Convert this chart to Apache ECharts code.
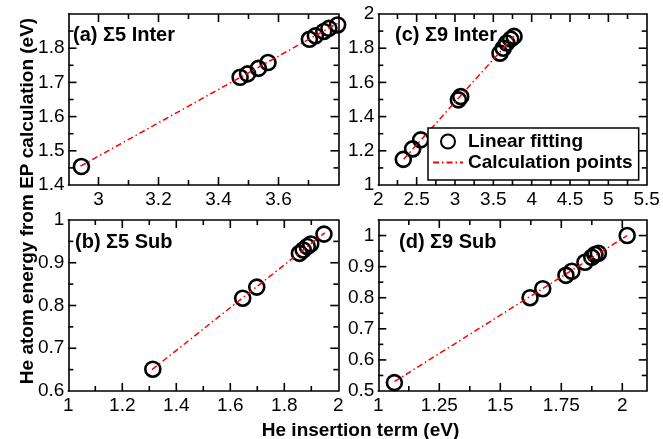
<!DOCTYPE html>
<html>
<head>
<meta charset="utf-8">
<script src="https://cdn.jsdelivr.net/npm/echarts@6/dist/echarts.min.js"></script>
<style>
	body { margin: 0; background: #fff; }
	.wrap { position: relative; width: 663px; height: 439px; }
	.layer { position: absolute; left: 0; top: 0; width: 663px; height: 439px; }
</style>
</head>
<body>
<div class="wrap">
	<div id="p0" class="layer"></div>
	<div id="p2" class="layer"></div>
	<div id="p3" class="layer"></div>
	<div id="p1" class="layer"></div>
</div>
<script>
// (a) Sigma5 interstitial
const interA_x = [2.943, 3.472, 3.497, 3.533, 3.565, 3.703, 3.723, 3.751, 3.768, 3.797];
const interA_y = [1.454, 1.715, 1.725, 1.741, 1.758, 1.826, 1.836, 1.849, 1.858, 1.868];
const fitA_x = [2.94, 3.797];
const fitA_y = [1.455, 1.873];

// (c) Sigma9 interstitial
const interC_x = [2.326, 2.448, 2.553, 3.044, 3.075, 3.587, 3.63, 3.675, 3.727, 3.77];
const interC_y = [1.150, 1.211, 1.264, 1.498, 1.517, 1.771, 1.80, 1.83, 1.853, 1.869];
const fitC_x = [2.33, 3.77];
const fitC_y = [1.15, 1.87];

// (b) Sigma5 substitutional
const subB_x = [1.313, 1.646, 1.698, 1.856, 1.870, 1.885, 1.898, 1.947];
const subB_y = [0.651, 0.817, 0.843, 0.922, 0.930, 0.938, 0.944, 0.967];
const fitB_x = [1.31, 1.95];
const fitB_y = [0.65, 0.97];

// (d) Sigma9 substitutional
const subD_x = [1.066, 1.622, 1.674, 1.769, 1.793, 1.847, 1.875, 1.888, 1.902, 2.020];
const subD_y = [0.527, 0.800, 0.829, 0.872, 0.885, 0.914, 0.930, 0.939, 0.943, 1.000];
const fitD_x = [1.066, 2.02];
const fitD_y = [0.53, 1.0];

const panelTitles = ["(a) Σ5 Inter", "(c) Σ9 Inter", "(b) Σ5 Sub", "(d) Σ9 Sub"];

const FONT = "Liberation Sans";

let zip = (xs, ys) => xs.map((x, i) => [x, ys[i]]);

// (a) x only labels even tenths; (a) y hides the 1.9 at the top
let evenTenths = (v) => (Math.round(v * 10) % 2 === 0 && v < 3.75 ? String(+v.toFixed(1)) : "");
let belowMax = (max) => (v) => (v < max - 1e-6 ? String(+v.toFixed(2)) : "");

let panels = [
	{ grid: { left: 68.5, top: 14, width: 270, height: 171 },
	  x: { min: 2.9, max: 3.8, interval: 0.1, major: 0.2, minor: 0.1, fmt: evenTenths },
	  y: { min: 1.4, max: 1.9, interval: 0.1, major: 0.1, minor: 0.05, fmt: belowMax(1.9) },
	  pts: zip(interA_x, interA_y), fit: zip(fitA_x, fitA_y),
	  label: { left: 73, top: 25 } },
	{ grid: { left: 378.3, top: 14, width: 268.4, height: 171 },
	  x: { min: 2, max: 5.5, interval: 0.5, major: 0.5, minor: 0.25 },
	  y: { min: 1, max: 2, interval: 0.2, major: 0.2, minor: 0.1 },
	  pts: zip(interC_x, interC_y), fit: zip(fitC_x, fitC_y),
	  label: { left: 395, top: 25 }, legend: true },
	{ grid: { left: 68.3, top: 220, width: 270, height: 171 },
	  x: { min: 1, max: 2, interval: 0.2, major: 0.2, minor: 0.1 },
	  y: { min: 0.6, max: 1, interval: 0.1, major: 0.1, minor: 0.05 },
	  pts: zip(subB_x, subB_y), fit: zip(fitB_x, fitB_y),
	  label: { left: 75, top: 232 } },
	{ grid: { left: 378.3, top: 220, width: 268.4, height: 171 },
	  x: { min: 1, max: 2.1, interval: 0.25, major: 0.25, minor: 0.125, hideMax: true },
	  y: { min: 0.5, max: 1.05, interval: 0.1, major: 0.1, minor: 0.05, hideMax: true },
	  pts: zip(subD_x, subD_y), fit: zip(fitD_x, fitD_y),
	  label: { left: 399, top: 232 } },
];

function axisPair(ax, horizontal, labelMargin) {
	let base = {
		type: "value", min: ax.min, max: ax.max, interval: ax.interval,
		axisLine: { show: true, onZero: false, lineStyle: { color: "#000", width: 1.6 } },
		axisTick: { show: false }, minorTick: { show: false }, splitLine: { show: false },
	};
	let lab = { color: "#000", fontSize: 19, fontFamily: FONT, margin: labelMargin };
	if (ax.fmt) lab.formatter = ax.fmt;
	if (ax.hideMax) lab.showMaxLabel = false;
	return [
		Object.assign({}, base, { position: horizontal ? "bottom" : "left", axisLabel: lab }),
		Object.assign({}, base, { position: horizontal ? "top" : "right", axisLabel: { show: false } }),
	];
}

// inward tick marks on all four sides: [value, isMajor, 0 = x axis / 1 = y axis]
function tickList(ax, dir) {
	let out = [];
	let k0 = Math.ceil(ax.min / ax.minor - 1e-6), k1 = Math.floor(ax.max / ax.minor + 1e-6);
	for (let k = k0; k <= k1; k++) {
		let v = +(k * ax.minor).toFixed(6);
		if (Math.abs(v - ax.min) < 1e-6 || Math.abs(v - ax.max) < 1e-6) continue;
		let r = v / ax.major;
		out.push([v, Math.abs(r - Math.round(r)) < 1e-6 ? 1 : 0, dir]);
	}
	return out;
}

function tickSeries(p) {
	return {
		type: "custom", silent: true, z: 5,
		data: tickList(p.x, 0).concat(tickList(p.y, 1)),
		renderItem: function (params, api) {
			let v = api.value(0);
			let len = api.value(1) ? 8 : 5;
			let style = { stroke: "#000", lineWidth: 1.6 };
			let a, b, s1, s2;
			if (api.value(2) === 0) {
				a = api.coord([v, p.y.min]);
				b = api.coord([v, p.y.max]);
				s1 = { x1: a[0], y1: a[1], x2: a[0], y2: a[1] - len };
				s2 = { x1: b[0], y1: b[1], x2: b[0], y2: b[1] + len };
			} else {
				a = api.coord([p.x.min, v]);
				b = api.coord([p.x.max, v]);
				s1 = { x1: a[0], y1: a[1], x2: a[0] + len, y2: a[1] };
				s2 = { x1: b[0], y1: b[1], x2: b[0] - len, y2: b[1] };
			}
			return {
				type: "group",
				children: [
					{ type: "line", shape: s1, style: style },
					{ type: "line", shape: s2, style: style },
				],
			};
		},
	};
}

let axisTitles = [
	{
		type: "text", x: 360.5, y: 430.5,
		style: {
			text: "He insertion term (eV)", font: "bold 19px " + FONT, fill: "#000",
			align: "center", verticalAlign: "middle",
		},
	},
	{
		type: "text", x: 28, y: 201, rotation: Math.PI / 2,
		style: {
			text: "He atom energy from EP calculation (eV)", font: "bold 19px " + FONT, fill: "#000",
			align: "center", verticalAlign: "middle",
		},
	},
];

let legend = {
	data: [
		{ name: "Linear fitting" },
		{ name: "Calculation points", itemStyle: { color: "rgba(0,0,0,0)", borderWidth: 0, opacity: 0 } },
	],
	orient: "vertical",
	left: 428,
	top: 128,
	itemWidth: 30,
	itemHeight: 14,
	itemGap: 2,
	padding: [4, 6, 8, 4],
	backgroundColor: "#fff",
	borderColor: "#000",
	borderWidth: 1.5,
	textStyle: { fontSize: 19, fontWeight: "bold", fontFamily: FONT, color: "#000" },
	z: 10,
};

// one chart instance per panel, all stacked over the same 663x439 area
panels.forEach((p, i) => {
	let option = {
		animation: false,
		grid: p.grid,
		xAxis: axisPair(p.x, true, 5),
		yAxis: axisPair(p.y, false, 4),
		title: {
			text: panelTitles[i], left: p.label.left, top: p.label.top, padding: 0,
			textStyle: { fontSize: 20, fontWeight: "bold", fontFamily: FONT, color: "#000" },
		},
		series: [
			tickSeries(p),
			{
				type: "scatter", name: "Linear fitting",
				data: p.pts, symbol: "circle", symbolSize: 15,
				itemStyle: { color: "rgba(0,0,0,0)", borderColor: "#000", borderWidth: 2.6, opacity: 1 },
			},
			{
				type: "line", name: "Calculation points",
				data: p.fit, symbol: "none",
				lineStyle: { color: "#ff0000", width: 1.5, type: [6, 3, 1.5, 3] },
				itemStyle: { color: "#ff0000" },
			},
		],
	};
	if (i === 0) option.graphic = axisTitles;
	if (p.legend) option.legend = legend;
	echarts.init(document.getElementById("p" + i)).setOption(option);
});
</script>
</body>
</html>
